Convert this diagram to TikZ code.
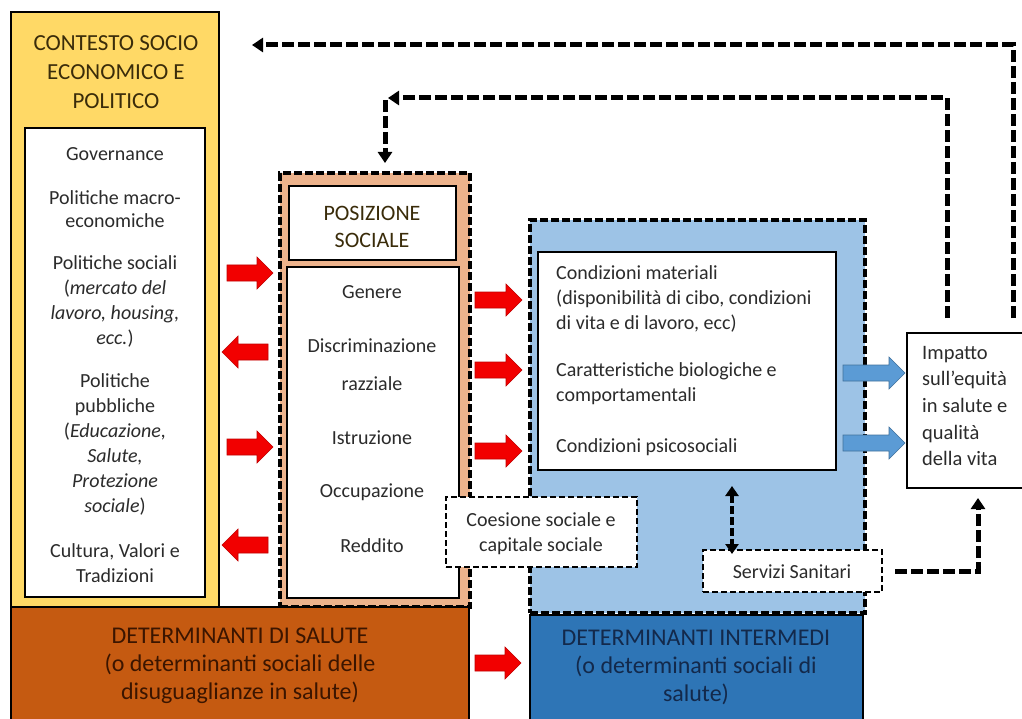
\documentclass[tikz,border=0pt]{standalone}
\usepackage{fontspec}
\setmainfont{Carlito}
\usetikzlibrary{arrows.meta}
\definecolor{ctxyellow}{HTML}{FFD966}
\definecolor{posfill}{HTML}{EDB38C}
\definecolor{ltblue}{HTML}{9DC3E6}
\definecolor{dkblue}{HTML}{2E75B6}
\definecolor{brownc}{HTML}{C55A11}
\definecolor{redarr}{HTML}{F20000}
\definecolor{redbord}{HTML}{C00000}
\definecolor{bluearr}{HTML}{5B9BD5}
\definecolor{bluebord}{HTML}{41719C}
\definecolor{txt}{HTML}{2B2B2B}
\definecolor{headtxt}{HTML}{3A2C0A}
\definecolor{browntxt}{HTML}{3B1500}
\definecolor{navytxt}{HTML}{13294B}
\newcommand\fatR[4]{\draw[#4] (#1,{#3-8}) -- ({#2-16},{#3-8}) -- ({#2-16},{#3-16}) -- (#2,#3) -- ({#2-16},{#3+16}) -- ({#2-16},{#3+8}) -- (#1,{#3+8}) -- cycle;}
\newcommand\fatL[4]{\draw[#4] (#2,{#3-8}) -- ({#1+16},{#3-8}) -- ({#1+16},{#3-16}) -- (#1,#3) -- ({#1+16},{#3+16}) -- ({#1+16},{#3+8}) -- (#2,{#3+8}) -- cycle;}
\begin{document}
\begin{tikzpicture}[x=1pt,y=-1pt,
  rbox/.style={draw=black, line width=1.5pt, anchor=north west, inner sep=0pt, outer sep=0pt},
  dbox/.style={draw=black, line width=4.5pt, dash pattern=on 8pt off 3pt, anchor=north west, inner sep=0pt, outer sep=0pt},
  tbox/.style={draw=black, line width=2.5pt, dash pattern=on 6pt off 3pt, fill=white, anchor=north west, inner sep=0pt, outer sep=0pt},
  body/.style={text=txt, font=\fontsize{20}{25}\selectfont, align=center, inner sep=0pt},
  head/.style={text=headtxt, font=\fontsize{22}{27}\selectfont, align=center, inner sep=0pt},
  big/.style={font=\fontsize{24}{28}\selectfont, align=center, inner sep=0pt},
  redfat/.style={fill=redarr, draw=redbord, line width=0.6pt},
  bluefat/.style={fill=bluearr, draw=bluebord, line width=0.6pt},
  dconn/.style={draw=black, line width=5pt, dash pattern=on 12pt off 4pt, -{Triangle[length=11pt,width=14pt]}},
  dconnb/.style={draw=black, line width=3.5pt, dash pattern=on 8pt off 3pt, {Triangle[length=10pt,width=13pt]}-{Triangle[length=10pt,width=13pt]}}
]
\useasboundingbox (0,0) rectangle (1022,719);
\fill[white] (0,0) rectangle (1022,719);

% boxes
\node[rbox, line width=2pt, fill=ctxyellow, minimum width=208pt, minimum height=595pt] (ctx) at (11,12) {};
\node[rbox, fill=white, minimum width=180pt, minimum height=469pt] (ctxin) at (25,128) {};
\node[dbox, fill=posfill, minimum width=190pt, minimum height=434pt] (pos) at (280,173) {};
\node[rbox, fill=white, minimum width=167pt, minimum height=74pt] (posh) at (289,186) {};
\node[rbox, fill=white, minimum width=172pt, minimum height=331pt] (posin) at (287,267) {};
\node[dbox, fill=ltblue, minimum width=335pt, minimum height=393pt] (blu) at (530,220) {};
\node[rbox, line width=1.2pt, fill=white, minimum width=298pt, minimum height=218pt] (cond) at (538,252) {};
\node[tbox, minimum width=191pt, minimum height=70pt] (coes) at (446,497) {};
\node[tbox, minimum width=179pt, minimum height=42pt] (serv) at (703,550) {};
\node[rbox, line width=1.2pt, fill=white, minimum width=130pt, minimum height=155pt] (imp) at (907,333) {};
\node[rbox, line width=2pt, fill=brownc, minimum width=458pt, minimum height=120pt] (brw) at (11,607) {};
\node[rbox, line width=2pt, fill=dkblue, minimum width=333pt, minimum height=110pt] (dkb) at (530,615) {};

% texts: contesto
\node[head, font=\fontsize{23}{29}\selectfont] (tctx) at (116,72) {CONTESTO SOCIO\\ECONOMICO E\\POLITICO};
\node[body] (tgov) at (115,154) {Governance};
\node[body, font=\fontsize{20}{23}\selectfont] (tmac) at (115,209) {Politiche macro-\\economiche};
\node[body] (tsoc) at (115,301) {Politiche sociali\\(\textit{mercato del}\\\textit{lavoro, housing,}\\\textit{ecc.})};
\node[body] (tpub) at (115,444) {Politiche\\pubbliche\\(\textit{Educazione,}\\\textit{Salute,}\\\textit{Protezione}\\\textit{sociale})};
\node[body] (tcul) at (115,563) {Cultura, Valori e\\Tradizioni};

% posizione
\node[head] (tpos) at (372,227) {POSIZIONE\\SOCIALE};
\node[body] (tgen) at (372,292) {Genere};
\node[body] (tdis) at (372,346) {Discriminazione};
\node[body] (traz) at (372,384) {razziale};
\node[body] (tist) at (372,438) {Istruzione};
\node[body] (tocc) at (372,492) {Occupazione};
\node[body] (tred) at (372,546) {Reddito};

% intermedi
\node[body, align=left, anchor=west] (tmat) at (556,299) {Condizioni materiali\\(disponibilità di cibo, condizioni\\di vita e di lavoro, ecc)};
\node[body, align=left, anchor=west] (tbio) at (556,384) {Caratteristiche biologiche e\\comportamentali};
\node[body, align=left, anchor=west] (tpsi) at (556,447) {Condizioni psicosociali};
\node[body] (tcoe) at (541,534) {Coesione sociale e\\capitale sociale};
\node[body] (tser) at (792,572) {Servizi Sanitari};
\node[body, align=left, anchor=west, font=\fontsize{20.5}{26.7}\selectfont] (timp) at (922,406) {Impatto\\sull’equità\\in salute e\\qualità\\della vita};

% bottom headings
\node[big, text=browntxt] (tbrw) at (240,666) {DETERMINANTI DI SALUTE\\(o determinanti sociali delle\\disuguaglianze in salute)};
\node[big, text=navytxt] (tdkb) at (696,667) {DETERMINANTI INTERMEDI\\(o determinanti sociali di\\salute)};

% fat arrows
\fatR{227}{273}{273}{redfat}
\fatL{222}{268}{352}{redfat}
\fatR{227}{273}{447}{redfat}
\fatL{222}{268}{545}{redfat}
\fatR{475}{522}{300}{redfat}
\fatR{475}{522}{370}{redfat}
\fatR{475}{522}{451}{redfat}
\fatR{475}{521}{663}{redfat}
\fatR{843}{905}{373}{bluefat}
\fatR{843}{905}{443}{bluefat}

% dashed connectors
\coordinate (topend) at (252,45);
\coordinate (corner) at (385,98);
\coordinate (posin2) at (385,163);
\draw[dconn] ([yshift=15pt]imp.north -| 1013,0) |- (topend);
\draw[dconn] ([yshift=15pt]imp.north -| 947,0) |- ([xshift=3pt]corner);
\draw[dconn] ([yshift=-2pt]corner) -- (posin2);
\draw[dconn] (serv.east -| 895,0) -| ([yshift=-10pt]imp.south -| 978,0);
\draw[dconnb] (cond.south -| 732,0) ++(0,16) -- ([yshift=-4pt]serv.north -| 732,0);
\end{tikzpicture}
\end{document}
